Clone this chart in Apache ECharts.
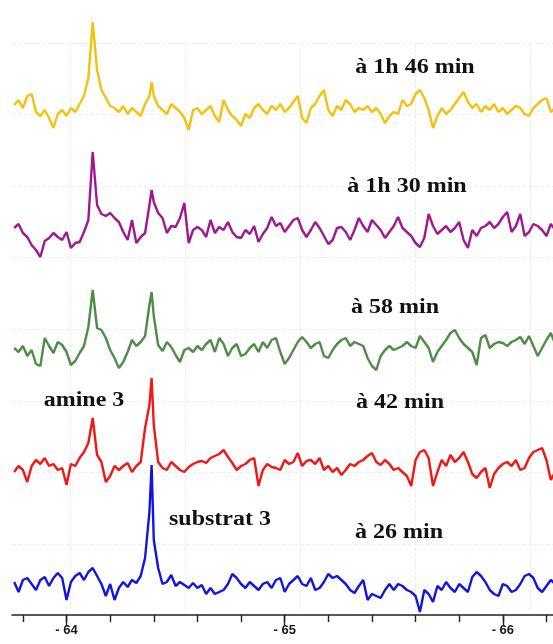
<!DOCTYPE html>
<html>
<head>
<meta charset="utf-8">
<script src="https://cdn.jsdelivr.net/npm/echarts@6/dist/echarts.min.js"></script>
<style>
html,body{margin:0;padding:0;background:#fff;}
#chart{width:553px;height:644px;}
</style>
</head>
<body>
<div id="chart"></div>
<script>
// chemical shift (ppm) of each sample
const shifts = [
-63.76,-63.78,-63.80,-63.82,-63.84,-63.86,-63.88,-63.90,-63.92,-63.94,
-63.96,-63.98,-64.00,-64.02,-64.04,-64.06,-64.08,-64.10,-64.12,-64.14,
-64.16,-64.18,-64.20,-64.22,-64.24,-64.26,-64.28,-64.30,-64.32,-64.34,
-64.36,-64.38,-64.39,-64.40,-64.42,-64.44,-64.46,-64.48,-64.50,-64.52,
-64.54,-64.56,-64.58,-64.60,-64.62,-64.64,-64.66,-64.68,-64.70,-64.72,
-64.74,-64.76,-64.78,-64.80,-64.82,-64.84,-64.86,-64.88,-64.90,-64.92,
-64.94,-64.96,-64.98,-65.00,-65.02,-65.04,-65.06,-65.08,-65.10,-65.12,
-65.14,-65.16,-65.18,-65.20,-65.22,-65.24,-65.26,-65.28,-65.30,-65.32,
-65.34,-65.36,-65.38,-65.40,-65.42,-65.44,-65.46,-65.48,-65.50,-65.52,
-65.54,-65.56,-65.58,-65.60,-65.62,-65.64,-65.66,-65.68,-65.70,-65.72,
-65.74,-65.76,-65.78,-65.80,-65.82,-65.84,-65.86,-65.88,-65.90,-65.92,
-65.94,-65.96,-65.98,-66.00,-66.02,-66.04,-66.06,-66.08,-66.10,-66.12,
-66.14,-66.16,-66.18,-66.20,-66.22,-66.24];

// intensities (arbitrary units) for each spectrum
const spec_1h46 = [
5,10,2,14,16,-2,-6,0,-8,-18,
-4,0,-6,2,-2,6,14,32,88,40,
20,12,4,2,-2,4,-4,2,-2,-6,
6,14,28,14,4,0,-4,6,2,-2,
-8,-20,0,2,-4,0,4,-6,-12,10,
0,-6,-10,-16,-4,-8,2,6,0,-4,
4,0,6,-2,2,8,14,-8,-13,2,
6,14,20,0,-6,4,0,10,6,-2,
2,0,4,-2,2,-4,-13,-6,-2,-4,
10,4,6,16,20,12,0,-18,-6,2,
-4,0,6,12,18,8,2,6,-2,4,
0,6,-2,2,-4,0,4,2,-4,-6,
2,6,10,12,-2,2];
const spec_1h30 = [
2,6,-3,-7,-15,-20,-27,-11,-8,-3,
-7,-10,-2,-18,-13,-12,-2,10,78,25,
16,14,17,12,8,-2,-10,10,-13,-7,
-3,25,40,28,17,12,-3,4,3,12,
27,-13,0,3,0,-7,10,-3,3,0,
8,-2,-7,-8,0,-4,4,-12,-4,2,
13,4,7,-2,4,10,12,0,-7,0,
8,2,-6,-14,-10,2,3,-2,-10,0,
12,4,-2,10,5,0,-8,-2,4,13,
2,-2,-6,-13,-17,-8,16,4,-4,0,
4,-2,2,8,-10,-18,0,-6,2,4,
8,2,6,13,18,-2,4,16,-6,-2,
6,4,0,-6,6,0];
const spec_58 = [
0,-4,2,-8,-2,-16,-18,10,2,-5,
6,3,-4,-17,-13,-5,2,21,58,20,
18,10,-2,-10,-20,-14,-4,8,2,6,
12,43,56,32,3,-3,6,1,-7,-14,
-2,0,-4,2,-2,4,8,-4,10,4,
-8,0,4,-8,-6,0,4,-4,6,0,
8,10,-4,-16,-10,-2,6,11,6,0,
4,6,-8,-10,-2,4,8,10,2,6,
4,2,-10,-18,-22,-8,-2,2,-2,0,
2,6,2,0,12,6,0,-14,-4,2,
8,15,18,10,4,0,-4,-17,10,13,
0,4,6,5,2,6,8,11,4,12,
2,-8,0,8,15,4];
const spec_42 = [
-6,0,-4,-16,0,6,2,8,0,2,
-4,-2,-19,2,0,8,14,23,48,11,
4,-16,-10,0,-4,0,3,-6,0,4,
38,61,88,41,4,-2,-4,4,0,-4,
-6,-1,2,4,5,3,8,10,12,16,
9,3,-4,0,2,6,8,-20,-4,2,
-1,-2,-4,6,2,4,13,0,5,6,
2,8,-4,0,-6,-2,-9,-4,2,0,
4,6,10,13,4,1,6,2,-4,-2,
-6,-10,-20,6,14,16,8,-20,-6,6,
0,11,4,8,14,4,-8,-12,-6,-2,
-22,-8,-2,2,4,0,6,-4,-2,8,
14,16,18,6,-14,-6];
const spec_26 = [
2,-8,4,6,0,-6,4,7,-2,6,
11,6,-16,2,8,11,4,12,16,8,
0,-12,0,-16,-4,2,-3,4,1,8,
26,72,119,44,16,0,2,9,-2,2,
-1,-4,1,-4,-1,-10,-4,-10,-8,-6,
0,10,6,0,-4,2,-2,-6,0,2,
-4,4,6,-8,0,4,8,0,-2,6,
-6,-4,2,10,6,8,4,0,-6,-9,
-2,4,-16,-10,-12,-14,-6,0,-6,0,
-2,-6,-8,-12,-28,-6,-10,-18,-2,-6,
2,-4,-8,0,-4,-8,7,12,8,2,
-6,-10,-12,0,-2,-8,-6,0,8,10,
6,-4,-8,-2,4,0];

const seriesNames = ['à 1h 46 min','à 1h 30 min','à 58 min','à 42 min','à 26 min'];
const seriesValues = [spec_1h46, spec_1h30, spec_58, spec_42, spec_26];
const peakLabels = ['amine 3','substrat 3'];
const tickLabelPrefix = '- ';

// ---- layout / style ----
const colors = ['#F4C20D','#A01890','#4F8C48','#F21616','#1414E0'];
const baselines = [110, 230, 348, 466, 584];   // pixel baseline of each trace
const X_MIN = -66.23, X_MAX = -63.75;
const PLOT_L = 12, PLOT_W = 541, AXIS_Y = 615;
const pxPerPpm = PLOT_W / (X_MAX - X_MIN);
const px = v => PLOT_L + (X_MAX - v) * pxPerPpm;

const grids = [], xAxes = [], yAxes = [], series = [];
seriesValues.forEach((vals, k) => {
  grids.push({left: PLOT_L, width: PLOT_W, top: baselines[k] - 100, height: 130});
  xAxes.push({type:'value', gridIndex:k, min:X_MIN, max:X_MAX, inverse:true, show:false});
  yAxes.push({type:'value', gridIndex:k, min:-30, max:100, show:false});
  series.push({
    name: seriesNames[k], type:'line', xAxisIndex:k, yAxisIndex:k,
    data: shifts.map((x, i) => [x, vals[i]]),
    showSymbol:false, clip:false, animation:false, z:5,
    lineStyle:{color:colors[k], width:2.4}
  });
});
// axis line
let g = grids.length;
grids.push({left: PLOT_L, width: PLOT_W, top: 0, height: AXIS_Y});
xAxes.push({type:'value', gridIndex:g, min:X_MIN, max:X_MAX, inverse:true,
  axisLine:{show:true, lineStyle:{color:'#222', width:1.5}}, axisTick:{show:false}, axisLabel:{show:false}, splitLine:{show:false}});
yAxes.push({type:'value', gridIndex:g, min:0, max:1, show:false});
// minor ticks every 0.2 ppm
g = grids.length;
grids.push({left: px(-63.8), width: px(-66.2) - px(-63.8), top: 0, height: AXIS_Y});
xAxes.push({type:'value', gridIndex:g, min:-66.2, max:-63.8, interval:0.2, inverse:true,
  axisLine:{show:false}, axisTick:{show:true, length:7, lineStyle:{color:'#222', width:1.4}},
  axisLabel:{show:false}, splitLine:{show:false}});
yAxes.push({type:'value', gridIndex:g, min:0, max:1, show:false});
// major ticks + labels every 1 ppm
g = grids.length;
grids.push({left: px(-64), width: px(-66) - px(-64), top: 0, height: AXIS_Y});
xAxes.push({type:'value', gridIndex:g, min:-66, max:-64, interval:1, inverse:true,
  axisLine:{show:false}, axisTick:{show:true, length:11, lineStyle:{color:'#222', width:1.4}},
  axisLabel:{show:true, margin:9, color:'#1a1a1a', fontSize:13, fontWeight:'bold',
    fontFamily:'"Liberation Sans", Arial, sans-serif',
    formatter: v => tickLabelPrefix + Math.abs(v)},
  splitLine:{show:false}});
yAxes.push({type:'value', gridIndex:g, min:0, max:1, show:false});
// faint background grid (vertical)
g = grids.length;
grids.push({left: 70, width: 460, top: 43, height: 567});
xAxes.push({type:'value', gridIndex:g, min:0, max:4, interval:1, axisLine:{show:false}, axisTick:{show:false}, axisLabel:{show:false},
  splitLine:{show:true, lineStyle:{color:'#ececec', type:'dashed', width:1}}});
yAxes.push({type:'value', gridIndex:g, min:0, max:1, show:false});
// faint background grid (horizontal)
g = grids.length;
grids.push({left: PLOT_L, width: PLOT_W, top: 43, height: 501});
xAxes.push({type:'value', gridIndex:g, min:0, max:1, show:false});
yAxes.push({type:'value', gridIndex:g, min:0, max:7, interval:1, axisLine:{show:false}, axisTick:{show:false}, axisLabel:{show:false},
  splitLine:{show:true, lineStyle:{color:'#efefef', type:'dashed', width:1}}});

const font = 'bold 20px "Liberation Serif", "Times New Roman", serif';
const textPos = [[415,68],[407,187],[395,308],[400,403],[399,533]];
const graphics = seriesNames.map((t, k) => ({
  type:'text', x:textPos[k][0], y:textPos[k][1], scaleX:1.2, z:100,
  style:{text:t, font:font, fill:'#111', align:'center', verticalAlign:'middle'}
}));
graphics.push({type:'text', x:84, y:401, scaleX:1.2, z:100,
  style:{text:peakLabels[0], font:font, fill:'#111', align:'center', verticalAlign:'middle'}});
graphics.push({type:'text', x:220, y:520, scaleX:1.2, z:100,
  style:{text:peakLabels[1], font:font, fill:'#111', align:'center', verticalAlign:'middle'}});

const chart = echarts.init(document.getElementById('chart'), null, {renderer:'canvas'});
chart.setOption({
  animation:false,
  backgroundColor:'#fff',
  grid: grids.map(gr => Object.assign({containLabel:false}, gr)),
  xAxis: xAxes, yAxis: yAxes, series: series,
  graphic: graphics
});
</script>
</body>
</html>
